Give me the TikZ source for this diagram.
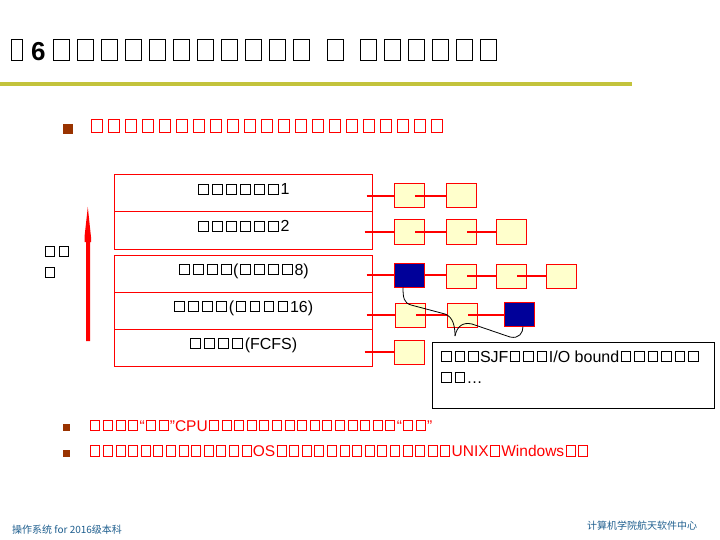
\documentclass[tikz,border=0pt]{standalone}
\usepackage{fontspec}
\setmainfont{Liberation Sans}
\newfontfamily\cjk{Noto Sans CJK SC}
\usetikzlibrary{calc}
\newdimen\tfw \newdimen\tfh \newdimen\tfa \newdimen\tfr
\newcount\tfc
\newcommand\tfset[4]{\tfw=#1\relax\tfh=#2\relax\tfa=#3\relax\tfr=#4\relax}
\newcommand\tofu{\hbox to\tfa{\hss\vbox{\hrule height\tfr\hbox{\vrule width\tfr\vbox to\tfh{\vss\hbox to\tfw{\hss}}\vrule width\tfr}\hrule height\tfr}\hss}}
\newcommand\T[1]{\tfc=#1\relax\loop\ifnum\tfc>0 \tofu\advance\tfc by -1\relax\repeat}
\definecolor{lyellow}{HTML}{FFFFCC}
\definecolor{navyb}{HTML}{000099}
\definecolor{brownb}{HTML}{993300}
\definecolor{oliveline}{HTML}{C3C33C}
\definecolor{footc}{HTML}{1F5F8F}
\tikzset{
  titlefont/.style={font=\fontsize{26}{30}\selectfont\bfseries\tfset{14.4pt}{19.4pt}{24pt}{1.3pt}},
  bulletone/.style={anchor=base west, inner sep=0, text=red, font=\fontsize{18}{22}\selectfont\tfset{10pt}{12pt}{17pt}{1pt}},
  bullettwo/.style={anchor=base west, inner sep=0, text=red, font=\fontsize{15.5}{20}\selectfont\tfset{8pt}{9.5pt}{12.6pt}{1pt}},
  rowbox/.style={draw=red, line width=1pt, fill=white, minimum width=258pt, minimum height=37pt, inner sep=0},
  rowtext/.style={anchor=base, inner sep=0, font=\fontsize{16}{19}\selectfont\tfset{8.7pt}{9pt}{14pt}{1pt}},
  sbox/.style={draw=red, line width=1pt, fill=lyellow, minimum width=30pt, minimum height=24pt, inner sep=0},
  nbox/.style={draw=red, line width=1pt, fill=navyb, minimum width=30pt, minimum height=24pt, inner sep=0},
  link/.style={draw=red, line width=1.3pt},
  curve/.style={draw=black, line width=0.8pt},
  callbox/.style={draw=black, line width=1pt, fill=white, minimum width=282pt, minimum height=66pt, inner sep=0},
  calltext/.style={anchor=base west, inner sep=0, align=left, font=\fontsize{16}{21}\selectfont\tfset{8.5pt}{9pt}{13.5pt}{1pt}},
  sidetext/.style={anchor=base west, inner sep=0, align=left, font=\fontsize{15}{21}\selectfont\tfset{8pt}{9pt}{14pt}{1pt}},
  foot/.style={anchor=base west, inner sep=0, text=footc, font=\cjk\fontsize{10}{12}\selectfont},
}
\begin{document}
\begin{tikzpicture}[x=1pt,y=-1pt]
\useasboundingbox (0,0) rectangle (720,540);
\fill[white] (0,0) rectangle (720,540);
% title
\node[anchor=base west, inner sep=0, titlefont] (title) at (0,61) {\kern11pt{\tfset{9.4pt}{19.4pt}{12pt}{1.3pt}\tofu}\kern8pt 6\kern4pt\T{11}\kern10pt\T{1}\kern9pt\T{6}};
\fill[oliveline] (0,82) rectangle (632,86);
% bullet 1
\fill[brownb] (63,124) rectangle (73,134);
\node[bulletone] (b1text) at (88.5,133) {\T{21}};
% side label and arrow
\node[sidetext] (side) at (43,278) {\T{2}\\\T{1}};
\fill[red] (87.8,207) -- (91,237) -- (91,242) -- (90,242) -- (90,341) -- (86,341) -- (86,242) -- (84.5,242) -- (84.5,237) -- cycle;
% rows
\node[rowbox] (r1) at (243,193.5) {};
\node[rowbox] (r2) at (243,230.5) {};
\node[rowbox] (r3) at (243,273.5) {};
\node[rowbox] (r4) at (243,310.5) {};
\node[rowbox] (r5) at (243,347.5) {};
\node[rowtext] (t1) at ([yshift=-1.5pt]r1.center) {\T{6}1};
\node[rowtext] (t2) at ([yshift=-1.5pt]r2.center) {\T{6}2};
\node[rowtext] (t3) at ([yshift=-1.5pt]r3.center) {\T{4}(\T{4}8)};
\node[rowtext] (t4) at ([yshift=-1.5pt]r4.center) {\T{4}(\T{4}16)};
\node[rowtext] (t5) at ([yshift=-1.5pt]r5.center) {\T{4}(FCFS)};
% queue boxes
\node[sbox] (b11) at (409,196) {};
\node[sbox] (b12) at (461,196) {};
\node[sbox] (b21) at (409,232) {};
\node[sbox] (b22) at (461,232) {};
\node[sbox] (b23) at (511,232) {};
\node[nbox] (b31) at (409,275) {};
\node[sbox] (b32) at (461,276) {};
\node[sbox] (b33) at (511,276) {};
\node[sbox] (b34) at (561,276) {};
\node[sbox] (b41) at (410,315) {};
\node[sbox] (b42) at (462,315) {};
\node[nbox] (b43) at (519,314) {};
\node[sbox] (b51) at (409,352) {};
% links
\draw[link] ($(r1.east |- b11.west)+(-6,0)$) -- (b11.west);
\draw[link] ($(b11.center)+(6,0)$) -- (b12.west);
\draw[link] ($(r2.east |- b21.west)+(-8,0)$) -- (b21.west);
\draw[link] ($(b21.center)+(6,0)$) -- (b22.west);
\draw[link] ($(b22.center)+(6,0)$) -- (b23.west);
\draw[link] ($(r3.east |- b31.west)+(-6,0)$) -- (b31.west);
\draw[link] (b31.east) -- (b31.east -| b32.west);
\draw[link] ($(b32.center)+(6,0)$) -- (b33.west);
\draw[link] ($(b33.center)+(6,0)$) -- (b34.west);
\draw[link] ($(r4.east |- b41.west)+(-6,0)$) -- (b41.west);
\draw[link] ($(b41.center)+(6,0)$) -- (b42.west);
\draw[link] ($(b42.center)+(6,0)$) -- (b43.west |- b42.center);
\draw[link] ($(r5.east |- b51.west)+(-8,0)$) -- (b51.west);
% callout
\node[callbox] (call) at (573,375) {};
\node[calltext] (ct) at (439.3,383) {\T{3}SJF\T{3}I/O bound\T{6}\\\T{2}…};
\coordinate (tip) at (455,336);
\draw[curve] ($(b31.south)+(-6,0)$) .. controls (403,298) and (404,303) .. (411,305) -- (445,314) .. controls (453,317) and (455,326) .. (tip);
\draw[curve] (tip) .. controls (457,326) and (463,322) .. (472,324) -- (510,337) .. controls (519,339) and (523,333) .. ($(b43.south)+(4,0)$);
% bullets 2,3
\fill[brownb] (62.6,424) rectangle (69.7,431);
\node[bullettwo] (b2text) at (88.9,431) {\T{4}“\T{2}”CPU\T{15}“\T{2}”};
\fill[brownb] (62.6,450) rectangle (69.7,457);
\node[bullettwo] (b3text) at (88.9,456.5) {\T{13}OS\T{14}UNIX\T{1}Windows\T{2}};
% footer
\node[foot] (fl) at (12,533) {操作系统 for 2016级本科};
\node[foot] (fr) at (587,529) {计算机学院航天软件中心};
\end{tikzpicture}
\end{document}
